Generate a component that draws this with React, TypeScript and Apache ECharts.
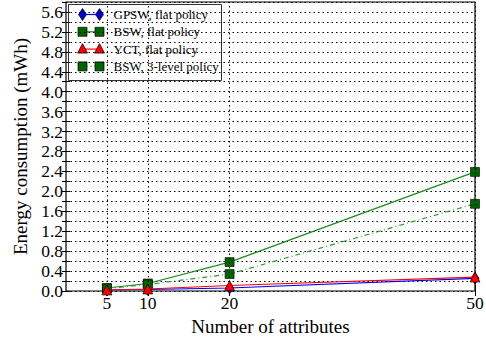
import React, { useEffect, useRef } from "react";
import * as echarts from "echarts";

const attributes = [5, 10, 20, 50];
const gpswFlat = [0.02, 0.03, 0.06, 0.255];
const bswFlat = [0.06, 0.15, 0.58, 2.39];
const yctFlat = [0.02, 0.04, 0.11, 0.28];
const bsw3Level = [0.05, 0.13, 0.34, 1.75];
const seriesNames = ["GPSW, flat policy", "BSW, flat policy", "YCT, flat policy", "BSW, 3-level policy"];
const xTicks = [5, 10, 20, 50];

const FONT = "'Liberation Serif', 'DejaVu Serif', serif";

type Sty = { line: string; dash: any; marker: "diamond" | "rect" | "triangle"; fill: string };
const styles: Sty[] = [
  { line: "#0000ff", dash: "solid", marker: "diamond", fill: "#0000cc" },
  { line: "#1a8a1a", dash: "solid", marker: "rect", fill: "#006400" },
  { line: "#ff0000", dash: "solid", marker: "triangle", fill: "#ff0000" },
  { line: "#2e9a2e", dash: [5, 3, 1, 3], marker: "rect", fill: "#006400" },
];

function markerGraphic(kind: string, cx: number, cy: number, fill: string) {
  const style = { fill, stroke: "#000", lineWidth: 0.7 };
  if (kind === "rect") return { type: "rect", shape: { x: cx - 4.5, y: cy - 4.5, width: 9, height: 9 }, style };
  if (kind === "diamond")
    return { type: "polygon", shape: { points: [[cx, cy - 6], [cx + 4, cy], [cx, cy + 6], [cx - 4, cy]] }, style };
  return { type: "polygon", shape: { points: [[cx, cy - 5.5], [cx + 5, cy + 4], [cx - 5, cy + 4]] }, style };
}

export default function App() {
  const ref = useRef<HTMLDivElement>(null);
  useEffect(() => {
    if (!ref.current) return;
    const chart = echarts.init(ref.current, undefined, { renderer: "svg" });
    const pts = (ys: number[]) => attributes.map((x, i) => [x, ys[i]]);

    const legendChildren: any[] = [
      { type: "rect", shape: { x: 0, y: 0, width: 153, height: 76 }, style: { fill: "#fff", stroke: "#333", lineWidth: 1 } },
    ];
    seriesNames.forEach((name, i) => {
      const cy = 10 + i * 17.3;
      const s = styles[i];
      legendChildren.push({
        type: "line",
        shape: { x1: 14, y1: cy, x2: 31, y2: cy },
        style: { stroke: s.line, lineWidth: 1.2, lineDash: s.dash === "solid" ? null : [1, 3] },
      });
      legendChildren.push(markerGraphic(s.marker, 14, cy, s.fill));
      legendChildren.push(markerGraphic(s.marker, 31, cy, s.fill));
      legendChildren.push({
        type: "text",
        x: 45,
        y: cy,
        style: { text: name, fontFamily: FONT, fontSize: 13, fill: "#000", verticalAlign: "middle", align: "left" },
      });
    });

    const tickFont = { fontFamily: FONT, fontSize: 17.5, color: "#000" };
    const nameFont = { fontFamily: FONT, fontSize: 19, color: "#000" };

    chart.setOption({
      animation: false,
      textStyle: { fontFamily: FONT },
      grid: {
        left: 66,
        right: 11,
        top: 2,
        bottom: 46,
        show: true,
        borderColor: "#000",
        borderWidth: 1.2,
        containLabel: false,
        outerBoundsMode: "none",
      },
      graphic: [{ type: "group", left: 68, top: 4, z: 100, children: legendChildren }],
      xAxis: [
        {
          type: "value",
          min: 0,
          max: 50,
          name: "Number of attributes",
          nameLocation: "middle",
          nameGap: 20,
          nameTextStyle: nameFont,
          axisLine: { show: false },
          splitLine: { show: false },
          axisTick: { show: true, inside: true, length: 5, customValues: xTicks, lineStyle: { color: "#000" } },
          axisLabel: { customValues: xTicks, ...tickFont, margin: 3 },
        },
        {
          type: "value",
          min: 0,
          max: 50,
          position: "top",
          axisLine: { show: false },
          splitLine: { show: false },
          axisTick: { show: true, inside: true, length: 5, customValues: xTicks, lineStyle: { color: "#000" } },
          axisLabel: { show: false },
        },
      ],
      yAxis: [
        {
          type: "value",
          min: 0,
          max: 5.8,
          interval: 0.2,
          name: "Energy consumption (mWh)",
          nameLocation: "middle",
          nameGap: 36,
          nameTextStyle: nameFont,
          axisLine: { show: false },
          axisTick: { show: true, inside: true, length: 4, lineStyle: { color: "#000" } },
          splitLine: { show: true, lineStyle: { type: [1.5, 3], color: "#000", width: 1 } },
          axisLabel: {
            ...tickFont,
            margin: 3,
            showMaxLabel: false,
            formatter: (v: number) => (Math.round(v * 10) % 4 === 0 ? v.toFixed(1) : ""),
          },
        },
        {
          type: "value",
          min: 0,
          max: 5.8,
          interval: 0.2,
          position: "right",
          axisLine: { show: false },
          axisTick: { show: true, inside: true, length: 4, lineStyle: { color: "#000" } },
          splitLine: { show: false },
          axisLabel: { show: false },
        },
      ],
      series: [
        {
          name: "grid-x",
          type: "line",
          data: [],
          silent: true,
          markLine: {
            silent: true,
            symbol: "none",
            label: { show: false },
            lineStyle: { type: [1.5, 3], color: "#000", width: 1 },
            data: xTicks.map((x) => ({ xAxis: x })),
          },
        },
        {
          name: seriesNames[0],
          type: "line",
          data: pts(gpswFlat),
          symbol: "diamond",
          symbolSize: [8, 12],
          lineStyle: { color: styles[0].line, width: 1.2 },
          itemStyle: { color: styles[0].fill, borderColor: "#000", borderWidth: 0.6 },
          z: 3,
        },
        {
          name: seriesNames[1],
          type: "line",
          data: pts(bswFlat),
          symbol: "rect",
          symbolSize: 9,
          lineStyle: { color: styles[1].line, width: 1.2 },
          itemStyle: { color: styles[1].fill, borderColor: "#000", borderWidth: 0.6 },
          z: 4,
        },
        {
          name: seriesNames[2],
          type: "line",
          data: pts(yctFlat),
          symbol: "triangle",
          symbolSize: 10,
          lineStyle: { color: styles[2].line, width: 1.2 },
          itemStyle: { color: styles[2].fill, borderColor: "#000", borderWidth: 0.6 },
          z: 5,
        },
        {
          name: seriesNames[3],
          type: "line",
          data: pts(bsw3Level),
          symbol: "rect",
          symbolSize: 9,
          lineStyle: { color: styles[3].line, width: 1.2, type: styles[3].dash },
          itemStyle: { color: styles[3].fill, borderColor: "#000", borderWidth: 0.6 },
          z: 4,
        },
      ],
    });
    return () => chart.dispose();
  }, []);
  return <div ref={ref} style={{ width: 486, height: 337, position: "absolute", left: 0, top: 0 }} />;
}
